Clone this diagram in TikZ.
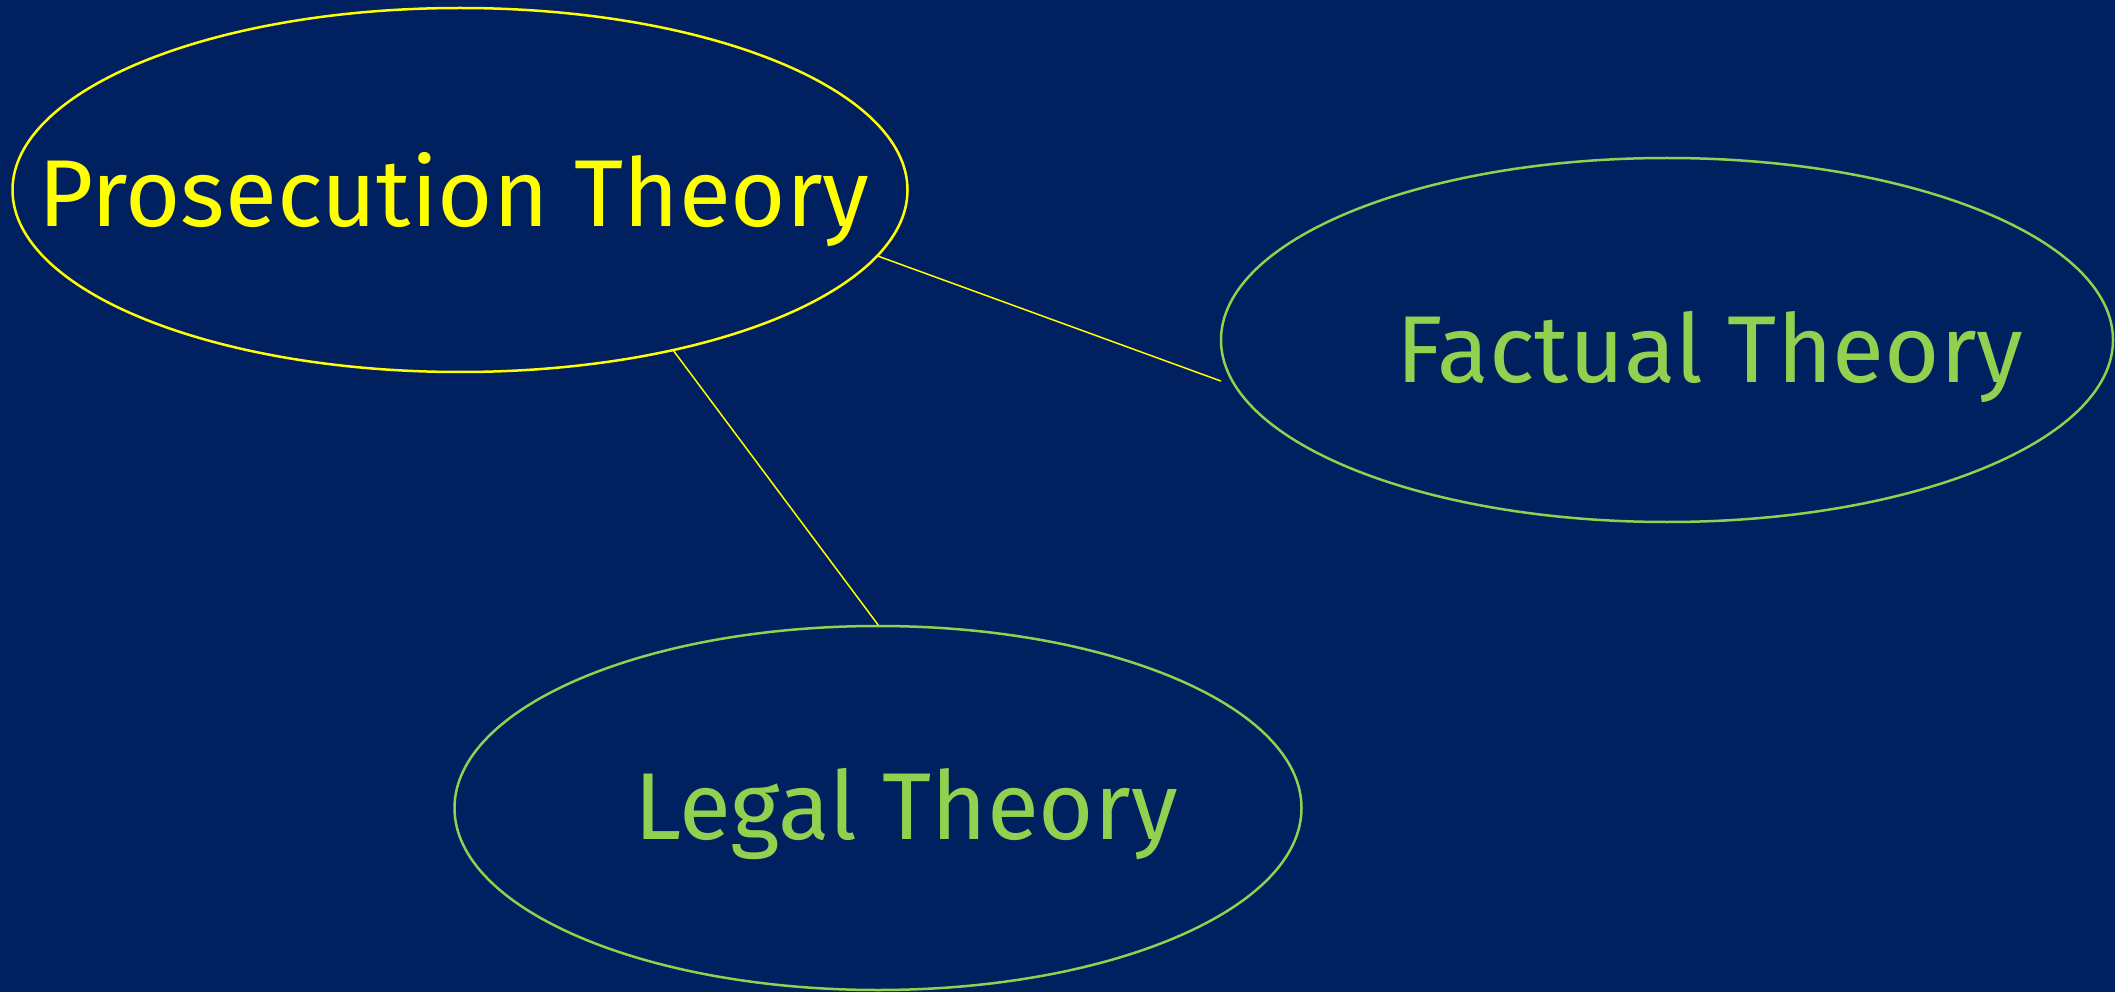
\documentclass[tikz,border=0pt]{standalone}
\usepackage{fontspec}
\setmainfont{Fira Sans}
\usetikzlibrary{shapes.geometric,positioning}
\definecolor{slideblue}{RGB}{0,32,96}
\definecolor{theoryyellow}{RGB}{255,255,0}
\definecolor{theorygreen}{RGB}{146,208,80}
\tikzset{
  theory/.style={ellipse,draw,line width=2.5pt,minimum width=895pt,minimum height=364pt,inner sep=0pt},
  theorytext/.style={font=\fontsize{95}{110}\selectfont,inner sep=0pt,anchor=base},
  link/.style={theoryyellow,line width=1.5pt}
}

\begin{document}
\begin{tikzpicture}[x=1pt,y=-1pt,line cap=round,line join=round]
 \fill[slideblue] (0,0) rectangle (2115,992);
 \useasboundingbox (0,0) rectangle (2115,992);
 \node[theory,theoryyellow] (prosecution) at (460,190) {};
 \node[theory,theorygreen,minimum width=892pt] (factual) at (1667,340) {};
 \node[theory,theorygreen,minimum width=847pt] (legal) at (878,808) {};
 \node[theorytext,theoryyellow] (prosecutiontext) at ([xshift=-6pt,yshift=-37pt]prosecution.center) {Prosecution Theory};
 \node[theorytext,theorygreen] (factualtext) at ([xshift=43pt,yshift=-42pt]factual.center) {Factual Theory};
 \node[theorytext,theorygreen] (legaltext) at ([xshift=28pt,yshift=-31pt]legal.center) {Legal Theory};
 \coordinate (factualend) at ([xshift=1pt,yshift=-41pt]factual.west);
 \draw[link] (prosecution.-9.6) -- (factualend);
 \draw[link] (prosecution.-37.3) -- (legal.90);
\end{tikzpicture}
\end{document}
